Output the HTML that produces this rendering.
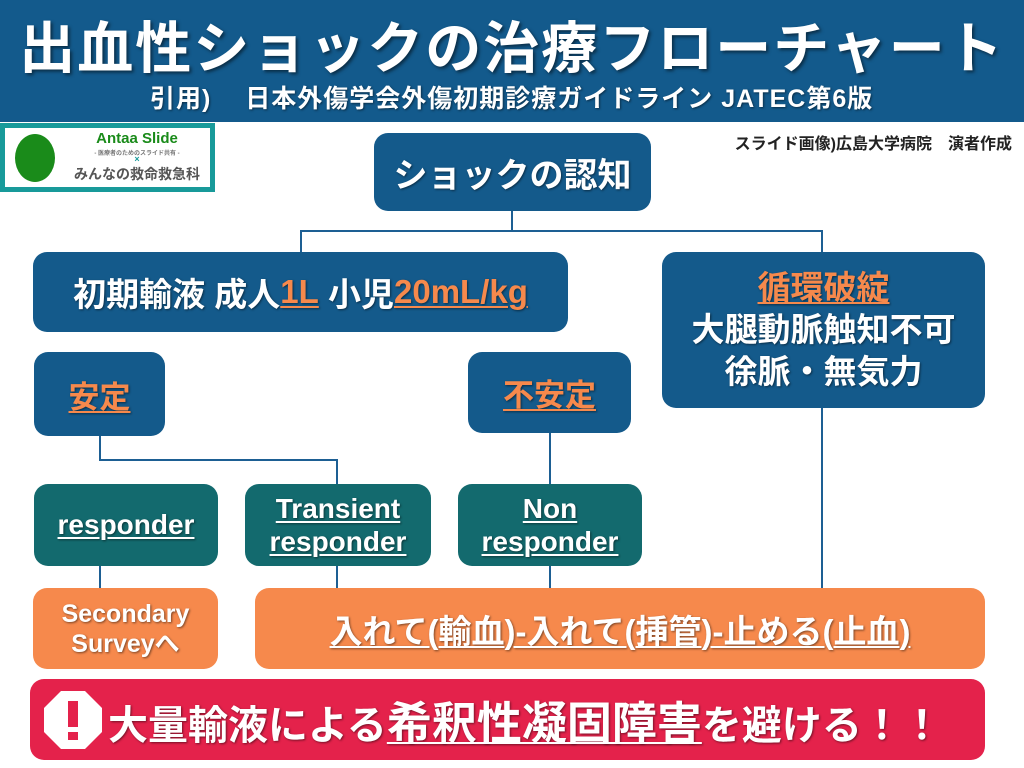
<!DOCTYPE html>
<html><head><meta charset="utf-8"><style>
body{margin:0;width:1024px;height:768px;position:relative;background:#fff;overflow:hidden;font-family:"Liberation Sans","Noto Sans CJK JP",sans-serif;font-weight:bold}
.b{position:absolute;border-radius:14px;color:#fff;display:flex;align-items:center;justify-content:center;text-align:center;text-shadow:1px 1px 2px rgba(0,0,0,.5)}
.d{background:#145a8b}.t{background:#136a6e}.o{background:#f6894c}
.l{position:absolute;background:#1d5f93}
u{text-decoration:underline;text-decoration-thickness:2px;text-underline-offset:3px}
.or{color:#f6894c}
</style></head><body>
<div style="position:absolute;left:0;top:0;width:1024px;height:122px;background:#135a8c"></div>
<div style="position:absolute;left:0;top:4px;width:1024px;text-align:center;color:#fff;font-size:56px;letter-spacing:2px;text-shadow:2px 2px 3px rgba(0,0,0,.5);white-space:nowrap">出血性ショックの治療フローチャート</div>
<div style="position:absolute;left:150px;top:79px;color:#fff;font-size:25px;letter-spacing:1px;text-shadow:1px 1px 2px rgba(0,0,0,.5);white-space:nowrap">引用)　 日本外傷学会外傷初期診療ガイドライン JATEC第6版</div>
<div style="position:absolute;left:0;top:123px;width:205px;height:59px;border:5px solid #189a9a;background:#fff">
<div style="position:absolute;left:10px;top:6px;width:40px;height:48px;border-radius:50%;background:#1a8b1a"></div>
<div style="position:absolute;left:62px;top:2px;width:140px;text-align:center;color:#1a8b1a;font-size:15px">Antaa Slide</div>
<div style="position:absolute;left:62px;top:20px;width:140px;text-align:center;color:#777;font-size:6px">- 医療者のためのスライド共有 -</div>
<div style="position:absolute;left:62px;top:26px;width:140px;text-align:center;color:#189a9a;font-size:9px">×</div>
<div style="position:absolute;left:62px;top:36px;width:140px;text-align:center;color:#555;font-size:14px">みんなの救命救急科</div>
</div>
<div style="position:absolute;right:12px;top:130px;font-size:16px;color:#222;white-space:nowrap">スライド画像)広島大学病院　演者作成</div>
<div class="l" style="left:511px;top:211px;width:2px;height:21px"></div>
<div class="l" style="left:300px;top:230px;width:523px;height:2px"></div>
<div class="l" style="left:300px;top:230px;width:2px;height:22px"></div>
<div class="l" style="left:821px;top:230px;width:2px;height:22px"></div>
<div class="l" style="left:99px;top:436px;width:2px;height:24px"></div>
<div class="l" style="left:99px;top:459px;width:239px;height:2px"></div>
<div class="l" style="left:336px;top:459px;width:2px;height:25px"></div>
<div class="l" style="left:549px;top:433px;width:2px;height:51px"></div>
<div class="l" style="left:99px;top:566px;width:2px;height:22px"></div>
<div class="l" style="left:336px;top:566px;width:2px;height:22px"></div>
<div class="l" style="left:549px;top:566px;width:2px;height:22px"></div>
<div class="l" style="left:821px;top:408px;width:2px;height:180px"></div>
<div class="b d" style="left:374px;top:133px;width:277px;height:78px;font-size:34px">ショックの認知</div>
<div class="b d" style="left:33px;top:252px;width:535px;height:80px;font-size:33px;white-space:nowrap">初期輸液 成人<u class="or">1L</u>&nbsp;小児<u class="or">20mL/kg</u></div>
<div class="b d" style="left:662px;top:252px;width:323px;height:156px;font-size:33px;line-height:42px;flex-direction:column"><u class="or">循環破綻</u><span>大腿動脈触知不可</span><span>徐脈・無気力</span></div>
<div class="b d" style="left:34px;top:352px;width:131px;height:84px;font-size:31px"><u class="or">安定</u></div>
<div class="b d" style="left:468px;top:352px;width:163px;height:81px;font-size:31px"><u class="or">不安定</u></div>
<div class="b t" style="left:34px;top:484px;width:184px;height:82px;font-size:28px"><u>responder</u></div>
<div class="b t" style="left:245px;top:484px;width:186px;height:82px;font-size:28px;line-height:33px"><u>Transient<br>responder</u></div>
<div class="b t" style="left:458px;top:484px;width:184px;height:82px;font-size:28px;line-height:33px"><u>Non<br>responder</u></div>
<div class="b o" style="left:33px;top:588px;width:185px;height:81px;font-size:25px;line-height:30px">Secondary<br>Surveyへ</div>
<div class="b o" style="left:255px;top:588px;width:730px;height:81px;font-size:33px;white-space:nowrap"><u>入れて(輸血)-入れて(挿管)-止める(止血)</u></div>
<div class="b" style="left:30px;top:679px;width:955px;height:81px;background:#e4224b;font-size:40px;justify-content:flex-start;white-space:nowrap">
<svg width="58" height="58" viewBox="0 0 58 58" style="margin-left:14px;margin-right:6px;flex:none"><polygon points="17,0 41,0 58,17 58,41 41,58 17,58 0,41 0,17" fill="#fff"/><rect x="24" y="10" width="10" height="26" fill="#e4224b"/><rect x="24" y="41" width="10" height="8" fill="#e4224b"/></svg>
<span>大量輸液による<u style="font-size:45px">希釈性凝固障害</u>を避ける！！</span></div>
</body></html>
